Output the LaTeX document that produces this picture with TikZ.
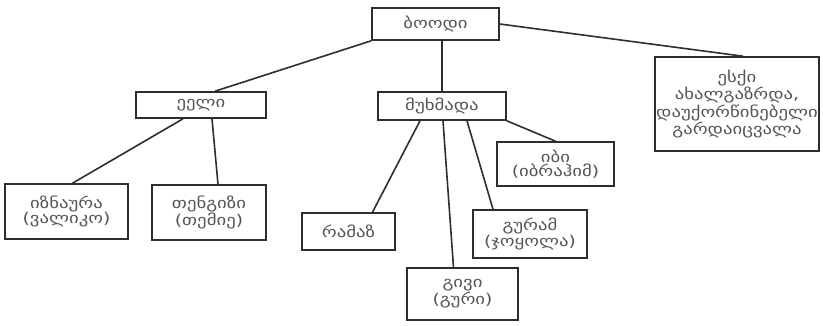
\documentclass[tikz,border=0pt]{standalone}
\usepackage{fontspec}
\setmainfont{DejaVu Sans}
\newfontfamily\geofont[FakeStretch=1.25]{DejaVu Sans}
\usepackage{xcolor}
\usetikzlibrary{calc}
\definecolor{boxline}{HTML}{2E2E2E}
\definecolor{boxtext}{HTML}{555555}

\begin{document}
\begin{tikzpicture}[x=1pt,y=-1pt,thick,
                    main node/.style={rectangle,draw=boxline,line width=1.6pt,fill=white,
                      text=boxtext,align=center,inner sep=1pt,
                      font=\geofont\fontsize{15}{14}\selectfont},
                    link/.style={draw=boxline,line width=1.6pt}]

  \useasboundingbox[fill=white] (0,0) rectangle (823,325);

  \node[main node,minimum width=127,minimum height=32] (root) at (435.5,24) {ბოოდი};
  \node[main node,minimum width=164,minimum height=94] (eski) at (737,104)
    {ესქი\\ახალგაზრდა,\\დაუქორწინებელი\\გარდაიცვალა};
  \node[main node,minimum width=130,minimum height=26] (eeli) at (201,105) {ეელი};
  \node[main node,minimum width=128,minimum height=28] (mukh) at (442,106) {მუხმადა};
  \node[main node,minimum width=123,minimum height=55] (izn) at (66.5,211.5) {იზნაურა\\(ვალიკო)};
  \node[main node,minimum width=114,minimum height=55] (teng) at (209,212.5) {თენგიზი\\(თემიე)};
  \node[main node,minimum width=117,minimum height=44] (ibi) at (555.5,164) {იბი\\(იბრაჰიმ)};
  \node[main node,minimum width=93,minimum height=37] (ramaz) at (348.5,231.5) {რამაზ};
  \node[main node,minimum width=114,minimum height=48] (guram) at (530,234) {გურამ\\(ჯოყოლა)};
  \node[main node,minimum width=111,minimum height=52] (givi) at (462.5,294) {გივი\\(გური)};

  % connectors
  \path[link] (root.south west) -- ($(eeli.north)+(14,0)$);
  \path[link] (mukh.north |- root.south) -- (mukh.north);
  \path[link] (root.east) -- ($(eski.north)+(6,0)$);
  \path[link] ($(eeli.south)+(-18,0)$) -- ($(izn.north)+(6,0)$);
  \path[link] ($(eeli.south)+(11,0)$) -- ($(teng.north)+(9,0)$);
  \path[link] ($(mukh.south)+(-22,0)$) -- ($(ramaz.north)+(24,0)$);
  \path[link] ($(mukh.south)+(1,0)$) -- ($(givi.north)+(-9,0)$);
  \path[link] ($(mukh.south)+(25,0)$) -- ($(guram.north)+(-37,0)$);
  \path[link] (mukh.south east) -- (ibi.north);
\end{tikzpicture}
\end{document}
